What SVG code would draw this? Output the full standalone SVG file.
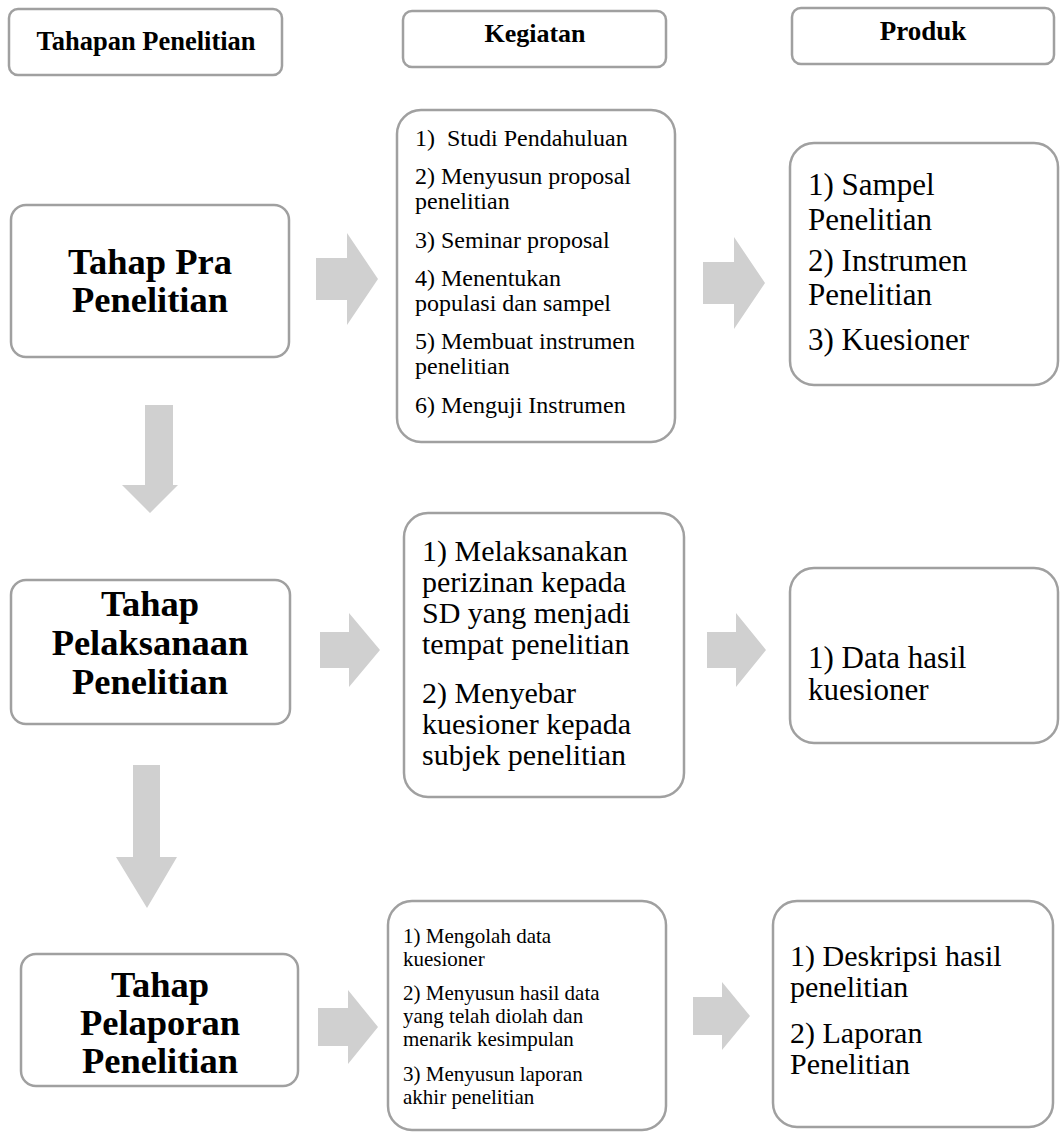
<svg xmlns="http://www.w3.org/2000/svg" width="1060" height="1135" viewBox="0 0 1060 1135">
<style>
.box{fill:#ffffff;stroke:#a0a0a0;stroke-width:2.5}
.arr{fill:#d0d0d0;stroke:none}
.hd{font-weight:bold;fill:#000;text-anchor:middle}
.st{font-weight:bold;font-size:36.5px;fill:#000;text-anchor:middle}
.tx{fill:#000}
</style>
<rect width="1060" height="1135" fill="#ffffff"/>
<g font-family="Liberation Serif, Times New Roman, serif">
<g id="header-tahapan"><rect class="box" x="9" y="9" width="273" height="66" rx="9"/><text class="hd" x="146" y="50" font-size="26.5">Tahapan Penelitian</text></g>
<g id="header-kegiatan"><rect class="box" x="403" y="11" width="263" height="56" rx="9"/><text class="hd" x="535" y="42" font-size="26">Kegiatan</text></g>
<g id="header-produk"><rect class="box" x="792" y="8" width="262" height="56" rx="9"/><text class="hd" x="923" y="40" font-size="27">Produk</text></g>

<g id="tahap-pra"><rect class="box" x="11" y="205" width="278" height="152" rx="15"/><text class="st" x="150" y="274">Tahap Pra</text><text class="st" x="150" y="312">Penelitian</text></g>
<g id="tahap-pelaksanaan"><rect class="box" x="11" y="580" width="279" height="144" rx="15"/><text class="st" x="150" y="616">Tahap</text><text class="st" x="150" y="655">Pelaksanaan</text><text class="st" x="150" y="694">Penelitian</text></g>
<g id="tahap-pelaporan"><rect class="box" x="21" y="954" width="277" height="132" rx="15"/><text class="st" x="160" y="997">Tahap</text><text class="st" x="160" y="1035">Pelaporan</text><text class="st" x="160" y="1073">Penelitian</text></g>

<g id="kegiatan-1"><rect class="box" x="397" y="110" width="278" height="332" rx="24"/>
<text class="tx" font-size="24" xml:space="preserve"><tspan x="415" y="146">1)  Studi Pendahuluan</tspan><tspan x="415" y="184">2) Menyusun proposal</tspan><tspan x="415" y="209">penelitian</tspan><tspan x="415" y="248">3) Seminar proposal</tspan><tspan x="415" y="286">4) Menentukan</tspan><tspan x="415" y="311">populasi dan sampel</tspan><tspan x="415" y="349">5) Membuat instrumen</tspan><tspan x="415" y="374">penelitian</tspan><tspan x="415" y="413">6) Menguji Instrumen</tspan></text></g>
<g id="kegiatan-2"><rect class="box" x="404" y="513" width="280" height="284" rx="24"/>
<text class="tx" font-size="30"><tspan x="422" y="561">1) Melaksanakan</tspan><tspan x="422" y="592">perizinan kepada</tspan><tspan x="422" y="623">SD yang menjadi</tspan><tspan x="422" y="654">tempat penelitian</tspan><tspan x="422" y="703">2) Menyebar</tspan><tspan x="422" y="734">kuesioner kepada</tspan><tspan x="422" y="765">subjek penelitian</tspan></text></g>
<g id="kegiatan-3"><rect class="box" x="388" y="901" width="278" height="229" rx="24"/>
<text class="tx" font-size="21"><tspan x="403" y="943">1) Mengolah data</tspan><tspan x="403" y="966">kuesioner</tspan><tspan x="403" y="1000">2) Menyusun hasil data</tspan><tspan x="403" y="1023">yang telah diolah dan</tspan><tspan x="403" y="1046">menarik kesimpulan</tspan><tspan x="403" y="1081">3) Menyusun laporan</tspan><tspan x="403" y="1104">akhir penelitian</tspan></text></g>

<g id="produk-1"><rect class="box" x="790" y="143" width="268" height="242" rx="24"/>
<text class="tx" font-size="31"><tspan x="808" y="195">1) Sampel</tspan><tspan x="808" y="230">Penelitian</tspan><tspan x="808" y="271">2) Instrumen</tspan><tspan x="808" y="305">Penelitian</tspan><tspan x="808" y="350">3) Kuesioner</tspan></text></g>
<g id="produk-2"><rect class="box" x="790" y="568" width="268" height="175" rx="24"/>
<text class="tx" font-size="31"><tspan x="808" y="668">1) Data hasil</tspan><tspan x="808" y="700">kuesioner</tspan></text></g>
<g id="produk-3"><rect class="box" x="773" y="901" width="280" height="226" rx="24"/>
<text class="tx" font-size="30"><tspan x="790" y="966">1) Deskripsi hasil</tspan><tspan x="790" y="997">penelitian</tspan><tspan x="790" y="1043">2) Laporan</tspan><tspan x="790" y="1074">Penelitian</tspan></text></g>
</g>

<g id="connectors">
<path class="arr" d="M316,258 H347 V233 L378,279 L347,325 V300 H316 Z"/>
<path class="arr" d="M703,262 H734 V237 L765,283 L734,329 V304 H703 Z"/>
<path class="arr" d="M320,632 H349 V613 L380,650 L349,687 V668 H320 Z"/>
<path class="arr" d="M707,632 H736 V613 L766,650 L736,687 V668 H707 Z"/>
<path class="arr" d="M318,1008 H348 V990 L378,1027 L348,1064 V1046 H318 Z"/>
<path class="arr" d="M693,997 H722 V982 L750,1016 L722,1050 V1035 H693 Z"/>
<path class="arr" d="M145,405 H173 V485 H178 L150,513 L122,485 H145 Z"/>
<path class="arr" d="M133,765 H160 V857 H177 L147,908 L116,857 H133 Z"/>
</g>
</svg>
